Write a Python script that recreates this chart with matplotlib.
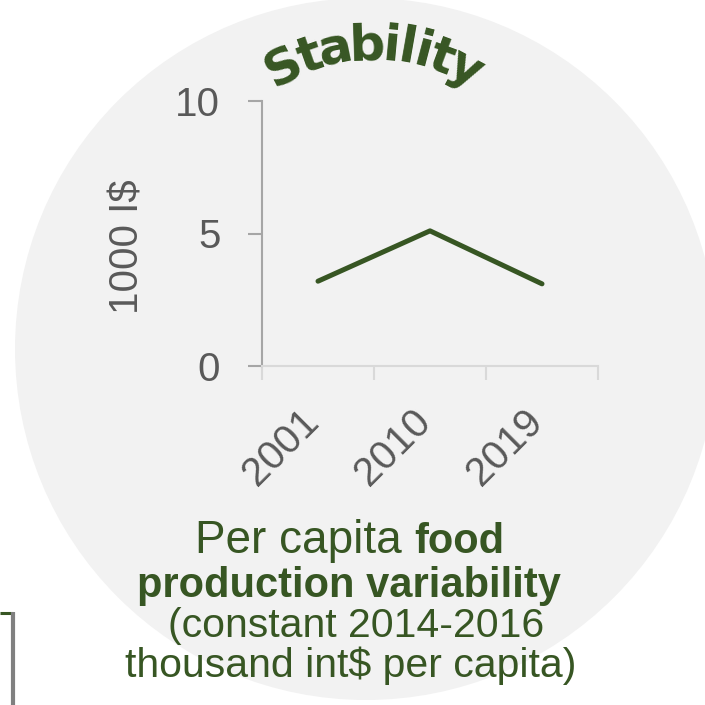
import numpy as np
import matplotlib
matplotlib.use('Agg')
import matplotlib.pyplot as plt
import matplotlib.transforms as mtransforms
from matplotlib.patches import Circle
from matplotlib.font_manager import FontProperties

# Données
years = ['2001', '2010', '2019']
values = [3.2, 5.1, 3.1]
y_ticks = [0, 5, 10]
title = 'Stability'
ylabel = '1000 I$'

green = '#375623'
grey_txt = '#595959'

plt.rcParams['font.family'] = 'Liberation Sans'

W = H = 705
fig = plt.figure(figsize=(7.05, 7.05), dpi=100)

# Fond en coordonnées pixels
bg = fig.add_axes([0, 0, 1, 1])
bg.set_xlim(0, W)
bg.set_ylim(H, 0)
bg.axis('off')
bg.add_patch(Circle((366, 349), 351, facecolor='#f2f2f2', edgecolor='none'))
bg.plot([0, 13], [612.5, 612.5], color=green, lw=2.2, solid_capstyle='butt')
bg.plot([12.8, 12.8], [612, H], color='#808080', lw=3, solid_capstyle='butt')

renderer = fig.canvas.get_renderer()

def text_w(s, fp):
    return renderer.get_text_width_height_descent(s, fp, ismath=False)[0]

# Titre courbé
fp_title = FontProperties(family='DejaVu Sans', weight='bold', size=36)
widths = [text_w(c, fp_title) * 0.86 for c in title]
cx, cy, R = 374, 240, 180
total = sum(widths)
s = 0
for c, w in zip(title, widths):
    phi = (s + w / 2 - total / 2) / R
    bg.text(cx + R * np.sin(phi), cy - R * np.cos(phi), c, fontproperties=fp_title,
            color=green, rotation=-np.degrees(phi), rotation_mode='anchor',
            ha='center', va='baseline')
    s += w

# Texte du bas
fp_reg1 = FontProperties(family='Liberation Sans', size=33)
fp_reg = FontProperties(family='Liberation Sans', size=29.5)
fp_bold = FontProperties(family='Liberation Sans', weight='bold', size=30)
space = text_w('a a', fp_reg1) - text_w('aa', fp_reg1)
part1, part2 = 'Per capita', 'food'
w1 = text_w(part1, fp_reg1) + space
w2 = text_w(part2, fp_bold)
x0 = 350 - (w1 + w2) / 2
bg.text(x0, 553, part1, fontproperties=fp_reg1, color=green, ha='left', va='baseline')
bg.text(x0 + w1, 553, part2, fontproperties=fp_bold, color=green, ha='left', va='baseline')
bg.text(349, 597, 'production variability', fontproperties=fp_bold, color=green,
        ha='center', va='baseline')
bg.text(356, 637, '(constant 2014-2016', fontproperties=fp_reg, color=green,
        ha='center', va='baseline')
bg.text(351, 677, 'thousand int$ per capita)', fontproperties=fp_reg, color=green,
        ha='center', va='baseline')

# Graphique
ax = fig.add_axes([262 / W, 1 - 366 / H, 336 / W, 265 / H])
ax.patch.set_alpha(0)
x = np.arange(len(years))
ax.plot(x, values, color=green, lw=3.6, solid_capstyle='round', solid_joinstyle='round')
ax.set_xlim(-0.5, len(years) - 0.5)
ax.set_ylim(0, 10)
ax.set_yticks(y_ticks)
ax.set_xticks(np.arange(len(years) + 1) - 0.5)
ax.set_xticklabels([])
ax.set_xticks(x, minor=True)
ax.set_xticklabels(years, minor=True, rotation=45, ha='right', fontsize=29, color=grey_txt)
ax.tick_params(axis='x', which='minor', length=0, pad=26)
ax.tick_params(axis='x', which='major', length=10, width=1.5, color='#d9d9d9')
ax.tick_params(axis='y', length=10, width=1.5, color='#a6a6a6', labelsize=29,
               labelcolor=grey_txt, pad=20)
shift = mtransforms.ScaledTranslation(8 / 100, 0, fig.dpi_scale_trans)
for lab in ax.get_xticklabels(minor=True):
    lab.set_transform(lab.get_transform() + shift)
for sp in ['top', 'right']:
    ax.spines[sp].set_visible(False)
ax.spines['left'].set_color('#a6a6a6')
ax.spines['left'].set_linewidth(1.5)
ax.spines['bottom'].set_color('#d9d9d9')
ax.spines['bottom'].set_linewidth(1.5)
ax.set_ylabel(ylabel, fontsize=29, color=grey_txt)
ax.yaxis.set_label_coords(-0.345, 0.449)

fig.savefig('out.png', dpi=100)
